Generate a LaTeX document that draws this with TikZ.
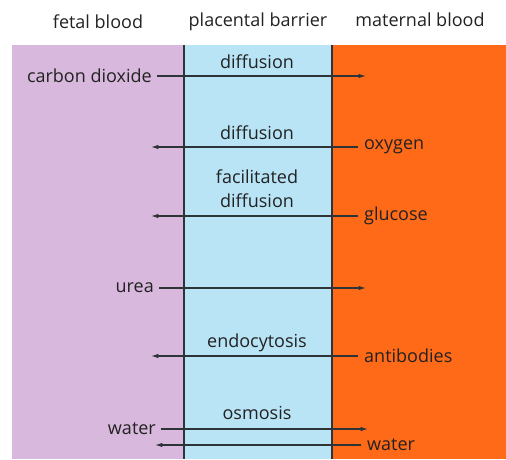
\documentclass[tikz,border=0pt]{standalone}
\usepackage{fontspec}
\setmainfont{Open Sans}
\usetikzlibrary{arrows.meta}
\definecolor{fetalBg}{HTML}{D8B8DC}
\definecolor{barrierBg}{HTML}{B8E4F6}
\definecolor{maternalBg}{HTML}{FF6A18}
\definecolor{diagramFlow}{HTML}{2E3338}
\definecolor{diagramText}{HTML}{222222}

\begin{document}
\begin{tikzpicture}[
    x=1pt,y=-1pt,>=Latex,
    every node/.style={font=\fontsize{18}{24}\selectfont,text=diagramText,align=center,inner sep=3pt},
    flow/.style={-{Latex[length=2.6mm,width=1.6mm]},draw=diagramFlow,line width=1.2pt},
    wall/.style={draw=diagramFlow,line width=1.1pt},
    inlabel/.style={anchor=east,inner xsep=5pt},
    outlabel/.style={anchor=west,inner xsep=6pt}
]
\useasboundingbox (0,0) rectangle (506,459);
\fill[fetalBg] (12,45) rectangle (184,459);
\fill[barrierBg] (184,45) rectangle (332,459);
\fill[maternalBg] (332,45) rectangle (506,459);
\draw[wall] (184,45) -- (184,459);
\draw[wall] (332,45) -- (332,459);

\node (fetal) at (98,22) {fetal blood};
\node (barrier) at (258,22) {placental barrier};
\node (maternal) at (420,20) {maternal blood};

% carbon dioxide
\node (diff1) at (257,62) {diffusion};
\node[inlabel] (co2) at (157,76) {carbon dioxide};
\coordinate (co2end) at (366,76);
\draw[flow] (co2.east) -- (co2end);

% oxygen
\node (diff2) at (257,133) {diffusion};
\node[outlabel] (oxygen) at (358,147) {oxygen};
\coordinate (oxyend) at (151,147);
\draw[flow] (oxygen.west) -- (oxyend);

% glucose
\node (facdiff) at (257,189) {facilitated\\diffusion};
\node[outlabel] (glucose) at (358,216) {glucose};
\coordinate (glucend) at (151,216);
\draw[flow] (glucose.west) -- (glucend);

% urea
\node[inlabel] (urea) at (159,288) {urea};
\coordinate (ureaend) at (366,288);
\draw[flow] (urea.east) -- (ureaend);

% antibodies
\node (endo) at (257,343) {endocytosis};
\node[outlabel] (antibodies) at (358,356) {antibodies};
\coordinate (antiend) at (151,356);
\draw[flow] (antibodies.west) -- (antiend);

% water
\node (osmo) at (257,413) {osmosis};
\node[inlabel] (waterin) at (161,429) {water};
\coordinate (waterinend) at (368,429);
\draw[flow] (waterin.east) -- (waterinend);
\node[outlabel] (waterout) at (361,445) {water};
\coordinate (wateroutend) at (155,445);
\draw[flow] (waterout.west) -- (wateroutend);
\end{tikzpicture}
\end{document}
